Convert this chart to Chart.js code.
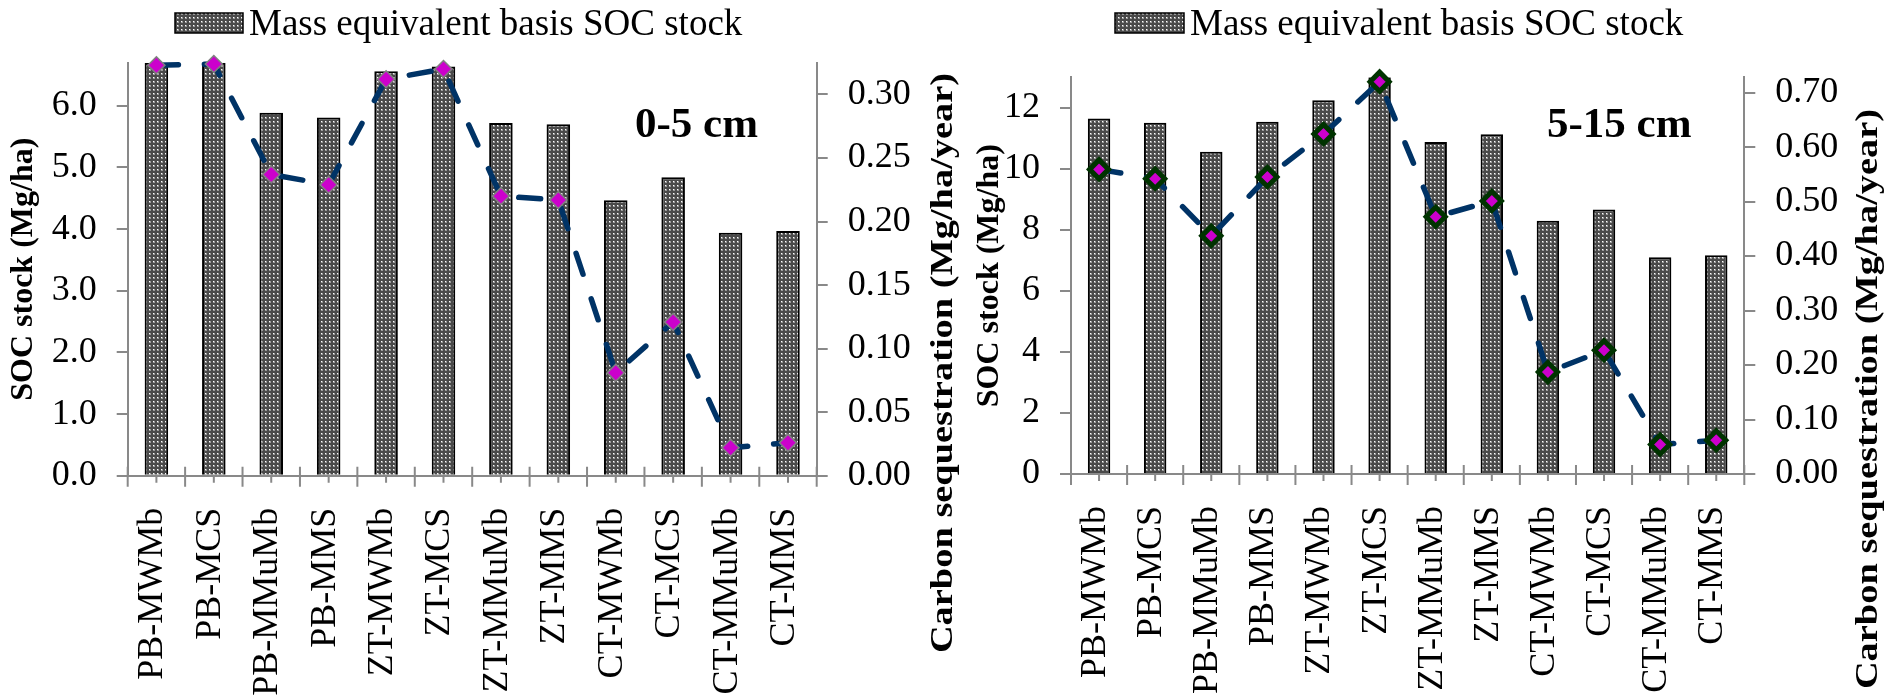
<!DOCTYPE html>
<html>
<head>
<meta charset="utf-8">
<title>SOC stock and carbon sequestration</title>
<script src="https://cdn.jsdelivr.net/npm/chart.js@4.4.1/dist/chart.umd.min.js"></script>
<style>
  html, body { margin: 0; padding: 0; background: #fff; }
  #wrap { position: relative; width: 1893px; height: 697px; overflow: hidden; }
  #wrap canvas { position: absolute; top: 0; }
  #chart05 { left: 0; }
  #chart515 { left: 965px; }
</style>
</head>
<body>
<div id="wrap">
  <canvas id="chart05" width="965" height="697"></canvas>
  <canvas id="chart515" width="928" height="697"></canvas>
</div>
<script>
// Tillage x residue treatments
var treatments = ['PB-MWMb', 'PB-MCS', 'PB-MMuMb', 'PB-MMS', 'ZT-MWMb', 'ZT-MCS',
  'ZT-MMuMb', 'ZT-MMS', 'CT-MWMb', 'CT-MCS', 'CT-MMuMb', 'CT-MMS'];

// 0-5 cm layer
var socStock05 = [6.70, 6.70, 5.89, 5.81, 6.56, 6.64, 5.72, 5.70, 4.47, 4.84, 3.94, 3.97];
var carbonSeq05 = [0.323, 0.324, 0.237, 0.229, 0.312, 0.320, 0.220, 0.217, 0.081, 0.121, 0.022, 0.026];

// 5-15 cm layer
var socStock515 = [11.65, 11.51, 10.56, 11.54, 12.25, 13.00, 10.88, 11.13, 8.30, 8.67, 7.10, 7.17];
var carbonSeq515 = [0.559, 0.542, 0.437, 0.545, 0.624, 0.720, 0.472, 0.501, 0.187, 0.227, 0.054, 0.062];

// axis ranges and tick steps
var socAxis05 = { max: 6.7, step: 1, digits: 1 };
var seqAxis05 = { max: 0.325, step: 0.05, digits: 2 };
var socAxis515 = { max: 13, step: 2, digits: 0 };
var seqAxis515 = { max: 0.728, step: 0.1, digits: 2 };

var barLabel = 'Mass equivalent basis SOC stock';
var socTitle = 'SOC stock (Mg/ha)';
var seqTitle = 'Carbon sequestration (Mg/ha/year)';

var axisGray = '#898989';
var serif = '"Liberation Serif", "Times New Roman", serif';

Chart.defaults.font.family = serif;
Chart.defaults.color = '#000';

// dark grey fill with small soft white dots
function dotPattern() {
  var c = document.createElement('canvas');
  c.width = 4; c.height = 4;
  var g = c.getContext('2d');
  g.fillStyle = '#4a4a4a';
  g.fillRect(0, 0, 4, 4);
  g.fillStyle = '#9a9a9a';
  g.fillRect(1, 1, 2, 2);
  g.fillStyle = '#ffffff';
  g.fillRect(1, 1, 1, 1);
  return g.createPattern(c, 'repeat');
}
var dots = dotPattern();

// legend, depth label, right axis title and the x axis (tick marks + rotated names)
var panelDecor = {
  id: 'panelDecor',
  afterDraw: function (chart, args, o) {
    var ctx = chart.ctx;
    var xs = chart.scales.x;
    var base = xs.top;
    var labels = chart.data.labels;
    var i;

    ctx.save();
    ctx.strokeStyle = axisGray;
    ctx.lineWidth = 2;
    ctx.beginPath();
    for (i = 0; i <= labels.length; i++) {
      var xb = xs.getPixelForValue(i - 0.5);
      ctx.moveTo(xb, base - 9);
      ctx.lineTo(xb, base + 11);
    }
    for (i = 0; i < labels.length; i++) {
      var xc = xs.getPixelForValue(i);
      ctx.moveTo(xc, base);
      ctx.lineTo(xc, base + 7);
    }
    ctx.stroke();

    ctx.fillStyle = '#000';
    ctx.font = '36px ' + serif;
    ctx.textAlign = 'right';
    ctx.textBaseline = 'alphabetic';
    labels.forEach(function (lab, k) {
      ctx.save();
      ctx.translate(xs.getPixelForValue(k) + o.labelShift, base + 32);
      ctx.rotate(-Math.PI / 2);
      ctx.fillText(lab, 0, 0);
      ctx.restore();
    });

    // legend entry for the bars
    var lg = o.legend;
    ctx.fillStyle = dots;
    ctx.fillRect(lg.x, lg.y, lg.w, lg.h);
    ctx.strokeStyle = '#000';
    ctx.lineWidth = 1.5;
    ctx.strokeRect(lg.x, lg.y, lg.w, lg.h);
    ctx.fillStyle = '#000';
    ctx.font = '37px ' + serif;
    ctx.textAlign = 'left';
    ctx.textBaseline = 'middle';
    ctx.fillText(barLabel, lg.x + lg.w + 6, lg.y + lg.h / 2 + 2);

    // soil depth
    ctx.font = 'bold 43px ' + serif;
    ctx.textBaseline = 'alphabetic';
    ctx.fillText(o.depth.text, o.depth.x, o.depth.y);

    // secondary axis title, reading upwards and drawn a little stretched
    ctx.font = 'bold 32px ' + serif;
    ctx.textAlign = 'center';
    ctx.textBaseline = 'middle';
    ctx.translate(o.rightTitle.x, o.rightTitle.y);
    ctx.rotate(-Math.PI / 2);
    ctx.scale(o.rightTitle.stretch, 1);
    ctx.fillText(seqTitle, 0, 0);
    ctx.restore();
  }
};

function valueAxis(ax, pos, width, extra) {
  var s = {
    position: pos,
    min: 0,
    max: ax.max,
    ticks: {
      stepSize: ax.step,
      includeBounds: false,
      padding: 20,
      color: '#000',
      font: { size: 36 },
      callback: function (v) { return Number(v).toFixed(ax.digits); }
    },
    grid: { drawOnChartArea: false, tickLength: 11, color: axisGray, lineWidth: 2 },
    border: { color: axisGray, width: 2 },
    afterFit: function (scale) { scale.width = width; }
  };
  return Object.assign(s, extra || {});
}

function buildPanel(el, p) {
  if (!el || !window.Chart) return;
  return new Chart(el.getContext('2d'), {
    data: {
      labels: treatments,
      datasets: [{
        type: 'line',
        label: 'Carbon sequestration',
        data: p.seq,
        yAxisID: 'y1',
        order: 0,
        borderColor: '#003366',
        borderWidth: 5.5,
        borderDash: [22, 26],
        borderCapStyle: 'round',
        tension: 0,
        fill: false,
        clip: false,
        pointStyle: 'rectRot',
        pointRadius: p.markerRadius,
        pointHoverRadius: p.markerRadius,
        pointBackgroundColor: '#cc00cc',
        pointBorderColor: p.markerEdge,
        pointBorderWidth: p.markerEdgeWidth
      }, {
        type: 'bar',
        label: barLabel,
        data: p.soc,
        yAxisID: 'y',
        order: 1,
        backgroundColor: dots,
        borderColor: '#000',
        borderWidth: 2,
        categoryPercentage: 1,
        barPercentage: p.barPct
      }]
    },
    options: {
      responsive: false,
      animation: false,
      devicePixelRatio: 1,
      layout: { padding: { top: p.top, left: 0, right: 0, bottom: 0 } },
      plugins: {
        legend: { display: false },
        tooltip: { enabled: false },
        panelDecor: p.decor
      },
      scales: {
        x: {
          offset: true,
          grid: { display: false },
          ticks: { display: false },
          border: { color: axisGray, width: 2 },
          afterFit: function (scale) { scale.height = p.xHeight; }
        },
        y: valueAxis(p.socAxis, 'left', p.leftW, {
          title: {
            display: true,
            text: socTitle,
            color: '#000',
            font: { size: 32, weight: 'bold' },
            padding: { top: p.titlePad, bottom: 0 }
          }
        }),
        y1: valueAxis(p.seqAxis, 'right', p.rightW)
      }
    },
    plugins: [panelDecor]
  });
}

buildPanel(document.getElementById('chart05'), {
  soc: socStock05, seq: carbonSeq05, socAxis: socAxis05, seqAxis: seqAxis05,
  top: 62.7, xHeight: 221.3, leftW: 127.7, rightW: 148.3, titlePad: 5, barPct: 0.41,
  markerRadius: 8.5, markerEdge: '#808080', markerEdgeWidth: 1.5,
  decor: {
    labelShift: 6,
    legend: { x: 175, y: 13, w: 68, h: 20 },
    depth: { text: '0-5 cm', x: 635, y: 137 },
    rightTitle: { x: 943.5, y: 363, stretch: 1.2 }
  }
});

buildPanel(document.getElementById('chart515'), {
  soc: socStock515, seq: carbonSeq515, socAxis: socAxis515, seqAxis: seqAxis515,
  top: 77.3, xHeight: 223, leftW: 106, rightW: 148.7, titlePad: 6, barPct: 0.40,
  markerRadius: 9.5, markerEdge: '#003300', markerEdgeWidth: 5,
  decor: {
    labelShift: 6,
    legend: { x: 150, y: 13, w: 69, h: 20 },
    depth: { text: '5-15 cm', x: 582, y: 137 },
    rightTitle: { x: 904, y: 399, stretch: 1.2 }
  }
});
</script>
</body>
</html>
